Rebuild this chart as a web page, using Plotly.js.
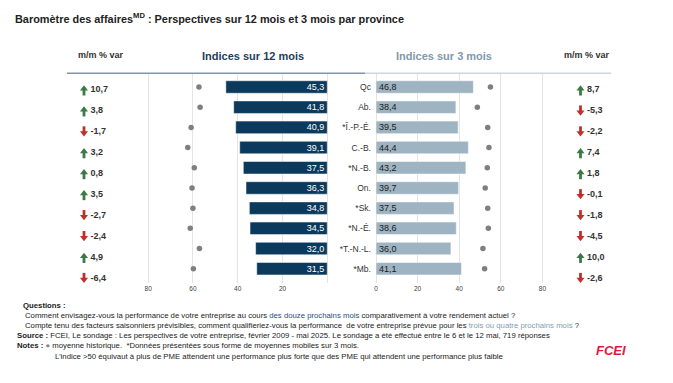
<!DOCTYPE html>
<html>
<head>
<meta charset="utf-8">
<script src="https://cdn.plot.ly/plotly-3.0.1.min.js"></script>
<style>html,body{margin:0;padding:0;background:#fff;}#chart{width:673px;height:383px;}</style>
</head>
<body>
<div id="chart"></div>
<script>
// ---- data ----
const provinces = ['Qc','Ab.','*Î.-P.-É.','C.-B.','*N.-B.','On.','*Sk.','*N.-É.','*T.-N.-L.','*Mb.'];
const idx12  = [45.3, 41.8, 40.9, 39.1, 37.5, 36.3, 34.8, 34.5, 32.0, 31.5];
const hist12 = [57.3, 56.8, 60.8, 62.3, 59.4, 60.4, 60.0, 61.2, 57.1, 59.8];
const idx3   = [46.8, 38.4, 39.5, 44.4, 43.2, 39.7, 37.5, 38.6, 36.0, 41.1];
const hist3  = [55.0, 48.7, 53.7, 54.3, 53.5, 52.5, 53.7, 54.0, 51.4, 52.2];
const mm12   = [10.7, 3.8, -1.7, 3.2, 0.8, 3.5, -2.7, -2.4, 4.9, -6.4];
const mm3    = [8.7, -5.3, -2.2, 7.4, 1.8, -0.1, -1.8, -4.5, 10.0, -2.6];
const tickVals = [0, 20, 40, 60, 80];
const leftTickText = [' ', '20', '40', '60', '80'];
const rightTickText = ['0', '20', '40', '60', '80'];

// ---- styling ----
const W = 673, H = 383;
const FONT = 'Liberation Sans, Arial, sans-serif';
const DARK = '#0b3a5c', LIGHT = '#9fb4c2', DOT = '#7f7f7f';
const UP = '#3c7a45', DOWN = '#c0302a';
const px = v => v / W, py = v => 1 - v / H;

const fmt = v => v.toFixed(1).replace('.', ',');
const arrowCol = v => v >= 0 ? UP : DOWN;
const rowIdx = provinces.map((_, i) => i);

// column positions (layout) for m/m text on a pixel-like helper axis
const COL = {leftArrow: 84, leftNum: 90.5, rightArrow: 580.5, rightNum: 587};
const ROW_PX = 20.93;            // pixel height of one m/m row on helper axis
const HEAD_OFF = 1.2 / ROW_PX;   // arrow-head shift
const SHAFT_OFF = 2.0 / ROW_PX;  // arrow-shaft shift

function arrowTraces(vals, colX) {
  const head = {type:'scatter', mode:'markers', xaxis:'x3', yaxis:'y3', hoverinfo:'skip',
    x: vals.map(() => colX),
    y: vals.map((v, i) => v >= 0 ? i - HEAD_OFF : i + HEAD_OFF),
    marker:{symbol: vals.map(v => v >= 0 ? 'triangle-up' : 'triangle-down'),
            size:7, color: vals.map(arrowCol), line:{width:0}}};
  const shaft = {type:'scatter', mode:'markers', xaxis:'x3', yaxis:'y3', hoverinfo:'skip',
    x: vals.map(() => colX),
    y: vals.map((v, i) => v >= 0 ? i + SHAFT_OFF : i - SHAFT_OFF),
    marker:{symbol:'line-ns', size:5, color: vals.map(arrowCol),
            line:{width:2.8, color: vals.map(arrowCol)}}};
  return [head, shaft];
}

const traces = [
  {type:'bar', orientation:'h', x: idx12, y: provinces, xaxis:'x', yaxis:'y',
   marker:{color: DARK, line:{color:'#ffffff', width:0.5}}, width:0.62,
   texttemplate:'%{x:.1f}', textposition:'inside', insidetextanchor:'start', constraintext:'none',
   textfont:{color:'#ffffff', size:9, family: FONT}, hoverinfo:'skip'},
  {type:'scatter', mode:'markers', x: hist12, y: provinces, xaxis:'x', yaxis:'y',
   marker:{color: DOT, size:5.5}, hoverinfo:'skip'},
  {type:'bar', orientation:'h', x: idx3, y: provinces, xaxis:'x2', yaxis:'y2',
   marker:{color: LIGHT, line:{color:'#ffffff', width:0.5}}, width:0.62,
   texttemplate:'%{x:.1f}', textposition:'inside', insidetextanchor:'start', constraintext:'none',
   textfont:{color:'#1a1a1a', size:9, family: FONT}, hoverinfo:'skip'},
  {type:'scatter', mode:'markers', x: hist3, y: provinces, xaxis:'x2', yaxis:'y2',
   marker:{color: DOT, size:5.5}, hoverinfo:'skip'},
  ...arrowTraces(mm12, COL.leftArrow),
  {type:'scatter', mode:'text', x: rowIdx.map(() => COL.leftNum), y: rowIdx, xaxis:'x3', yaxis:'y3',
   text: mm12.map(fmt), textposition:'middle right',
   textfont:{color:'#333333', size:9, family: FONT, weight:'bold'}, hoverinfo:'skip'},
  ...arrowTraces(mm3, COL.rightArrow),
  {type:'scatter', mode:'text', x: rowIdx.map(() => COL.rightNum), y: rowIdx, xaxis:'x3', yaxis:'y3',
   text: mm3.map(fmt), textposition:'middle right',
   textfont:{color:'#333333', size:9, family: FONT, weight:'bold'}, hoverinfo:'skip'}
];

const gridC = '#e4e4e4';
const catDomain = [py(283), py(74)];
const catRange = [9.708, -0.644];
const tickFont = {size:6.5, color:'#404040', family: FONT};
const FS = 7.75;

const layout = {
  width: W, height: H, autosize:false,
  margin:{l:0, r:0, t:0, b:0, pad:0},
  paper_bgcolor:'#ffffff', plot_bgcolor:'rgba(0,0,0,0)',
  showlegend:false, separators:', ',
  font:{family: FONT, color:'#333'},
  xaxis:{domain:[px(145.9), px(328.4)], range:[81, -0.5], anchor:'y',
         tickvals: tickVals, ticktext: leftTickText, tickfont: tickFont,
         showgrid:true, gridcolor: gridC, gridwidth:1, zeroline:false, showline:false, ticks:'', fixedrange:true},
  yaxis:{domain: catDomain, range: catRange, type:'category', anchor:'x',
         showticklabels:false, showgrid:false, zeroline:false, ticks:''},
  xaxis2:{domain:[px(374.96), px(544.5)], range:[-0.5, 81], anchor:'y2',
          tickvals: tickVals, ticktext: rightTickText, tickfont: tickFont,
          showgrid:true, gridcolor: gridC, gridwidth:1, zeroline:false, showline:false, ticks:''},
  yaxis2:{domain: catDomain, range: catRange, type:'category', anchor:'x2',
          showticklabels:true, tickfont:{size:8.5, color:'#333', family: FONT},
          ticks:'', ticklabelstandoff:3, showgrid:false, zeroline:false},
  xaxis3:{domain:[0,1], range:[0, W], anchor:'y3', visible:false},
  yaxis3:{domain:[py(290), py(70)], range:[9.5557, -0.9556], anchor:'x3', visible:false},
  shapes:[
    {type:'line', xref:'paper', yref:'paper', x0:px(67), x1:px(365), y0:py(73.3), y1:py(73.3),
     line:{color:'#8095aa', width:1.5}},
    {type:'line', xref:'paper', yref:'paper', x0:px(365), x1:px(611), y0:py(73.3), y1:py(73.3),
     line:{color:'#cdd6de', width:1.5}}
  ],
  annotations:[
    {xref:'paper', yref:'paper', x:px(12.5), y:py(18), xanchor:'left', yanchor:'middle', showarrow:false,
     text:'<b>Baromètre des affaires<sup>MD</sup> : Perspectives sur 12 mois et 3 mois par province</b>',
     font:{size:10.9, color:'#222', family: FONT}},
    {xref:'paper', yref:'paper', x:px(100.5), y:py(55), xanchor:'center', yanchor:'middle', showarrow:false,
     text:'<b>m/m % var</b>', font:{size:9, color:'#333', family: FONT}},
    {xref:'paper', yref:'paper', x:px(253), y:py(56), xanchor:'center', yanchor:'middle', showarrow:false,
     text:'<b>Indices sur 12 mois</b>', font:{size:11, color:'#1d3f60', family: FONT}},
    {xref:'paper', yref:'paper', x:px(443.5), y:py(56), xanchor:'center', yanchor:'middle', showarrow:false,
     text:'<b>Indices sur 3 mois</b>', font:{size:11, color:'#8199ac', family: FONT}},
    {xref:'paper', yref:'paper', x:px(586.5), y:py(55), xanchor:'center', yanchor:'middle', showarrow:false,
     text:'<b>m/m % var</b>', font:{size:9, color:'#333', family: FONT}},
    {xref:'paper', yref:'paper', x:px(20.5), y:py(305), xanchor:'left', yanchor:'middle', showarrow:false,
     text:'<b>Questions :</b>', font:{size:FS, color:'#222', family: FONT}},
    {xref:'paper', yref:'paper', x:px(22.5), y:py(315), xanchor:'left', yanchor:'middle', showarrow:false,
     text:'Comment envisagez-vous la performance de votre entreprise au cours <span style="color:#1f4e79">des douze prochains mois</span> comparativement à votre rendement actuel ?',
     font:{size:FS, color:'#222', family: FONT}},
    {xref:'paper', yref:'paper', x:px(22.5), y:py(325), xanchor:'left', yanchor:'middle', showarrow:false,
     text:'Compte tenu des facteurs saisonniers prévisibles, comment qualifieriez-vous la performance  de votre entreprise prévue pour les <span style="color:#7f9db5">trois ou quatre prochains mois </span>?',
     font:{size:FS, color:'#222', family: FONT}},
    {xref:'paper', yref:'paper', x:px(15), y:py(335), xanchor:'left', yanchor:'middle', showarrow:false,
     text:'<b>Source :</b> FCEI, Le sondage : Les perspectives de votre entreprise, février 2009 - mai 2025. Le sondage a été effectué entre le 6 et le 12 mai, 719 réponses',
     font:{size:FS, color:'#222', family: FONT}},
    {xref:'paper', yref:'paper', x:px(15), y:py(345), xanchor:'left', yanchor:'middle', showarrow:false,
     text:'<b>Notes :</b> <span style="color:#8a8a8a">●</span> moyenne historique.  *Données présentées sous forme de moyennes mobiles sur 3 mois.',
     font:{size:FS, color:'#222', family: FONT}},
    {xref:'paper', yref:'paper', x:px(53.3), y:py(356.7), xanchor:'left', yanchor:'middle', showarrow:false,
     text:'L’indice >50 équivaut à plus de PME attendent une performance plus forte que des PME qui attendent une performance plus faible',
     font:{size:FS, color:'#222', family: FONT}},
    {xref:'paper', yref:'paper', x:px(611), y:py(350), xanchor:'center', yanchor:'middle', showarrow:false,
     text:'<b><i>FCEI</i></b>', font:{size:13, color:'#e0193c', family: FONT}}
  ]
};

Plotly.newPlot('chart', traces, layout, {staticPlot:true, displayModeBar:false});
</script>
</body>
</html>
